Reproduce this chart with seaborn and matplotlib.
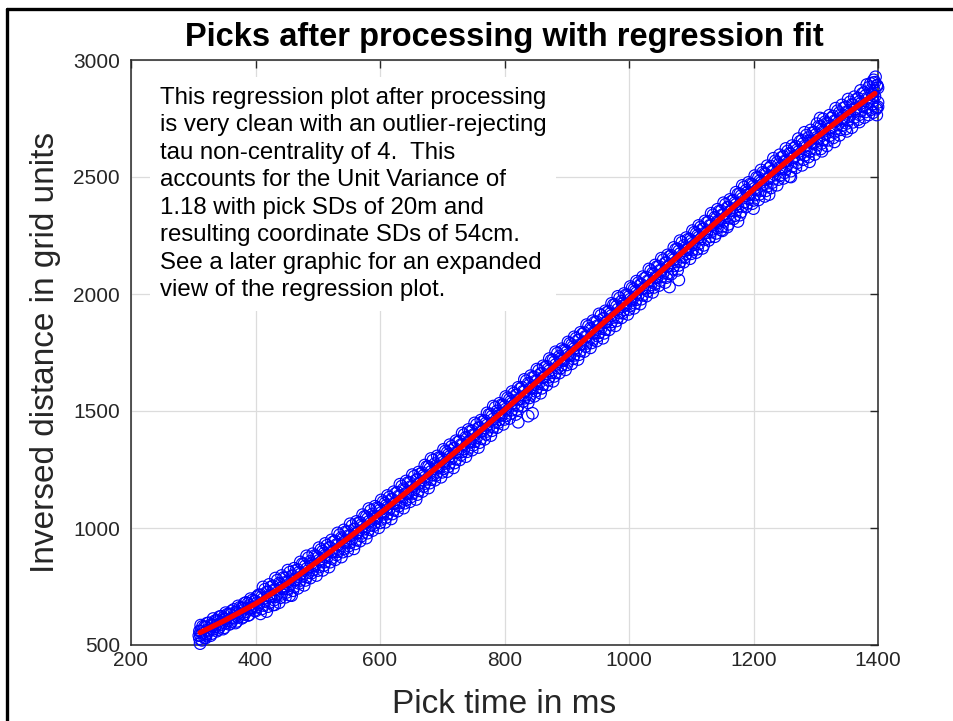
import matplotlib
matplotlib.use("Agg")
import matplotlib.pyplot as plt
from matplotlib.lines import Line2D
import pandas as pd
import seaborn as sns

# Pick times (ms) and inversed distances (grid units) after processing
pick_ms_even = [
    310, 320, 330, 340, 350, 360, 370, 380, 390, 400,
    410, 420, 430, 440, 450, 460, 470, 480, 490, 500,
    510, 520, 530, 540, 550, 560, 570, 580, 590, 600,
    610, 620, 630, 640, 650, 660, 670, 680, 690, 700,
    710, 720, 730, 740, 750, 760, 770, 780, 790, 800,
    810, 820, 830, 840, 850, 860, 870, 880, 890, 900,
    910, 920, 930, 940, 950, 960, 970, 980, 990, 1000,
    1010, 1020, 1030, 1040, 1050, 1060, 1070, 1080, 1090, 1100,
    1110, 1120, 1130, 1140, 1150, 1160, 1170, 1180, 1190, 1200,
    1210, 1220, 1230, 1240, 1250, 1260, 1270, 1280, 1290, 1300,
    1310, 1320, 1330, 1340, 1350, 1360, 1370, 1380, 1390, 1400,
]
dist_even_hi = [
    560, 575, 583, 600, 611, 629, 640, 658, 669, 688,
    706, 727, 736, 759, 770, 796, 811, 838, 848, 873,
    892, 917, 929, 954, 968, 996, 1013, 1040, 1051, 1077,
    1097, 1123, 1137, 1163, 1178, 1207, 1225, 1254, 1266, 1293,
    1314, 1341, 1356, 1383, 1399, 1429, 1448, 1478, 1491, 1519,
    1541, 1569, 1585, 1613, 1629, 1661, 1680, 1710, 1724, 1752,
    1775, 1804, 1819, 1848, 1865, 1896, 1916, 1947, 1960, 1989,
    2012, 2041, 2056, 2085, 2102, 2134, 2154, 2184, 2198, 2227,
    2250, 2279, 2294, 2323, 2339, 2371, 2390, 2420, 2434, 2462,
    2484, 2512, 2526, 2553, 2568, 2598, 2616, 2644, 2655, 2681,
    2702, 2728, 2740, 2766, 2779, 2807, 2822, 2848, 2857, 2881,
]
dist_even_lo = [
    527, 541, 549, 566, 574, 592, 601, 619, 629, 645,
    654, 664, 692, 702, 725, 732, 763, 776, 807, 818,
    840, 854, 885, 897, 923, 932, 965, 978, 1010, 1022,
    1045, 1060, 1093, 1106, 1133, 1143, 1177, 1192, 1225, 1238,
    1262, 1278, 1312, 1326, 1354, 1365, 1400, 1416, 1450, 1464,
    1489, 1506, 1541, 1556, 1584, 1597, 1632, 1648, 1683, 1697,
    1723, 1741, 1775, 1791, 1820, 1832, 1868, 1885, 1919, 1934,
    1960, 1978, 2012, 2028, 2057, 2070, 2106, 2122, 2157, 2172,
    2192, 2208, 2244, 2259, 2289, 2298, 2334, 2350, 2387, 2400,
    2426, 2441, 2476, 2489, 2518, 2525, 2560, 2574, 2608, 2619,
    2644, 2657, 2690, 2702, 2729, 2734, 2766, 2778, 2810, 2819,
]

pick_ms_odd = [
    315, 325, 335, 345, 355, 365, 375, 385, 395, 405,
    415, 425, 435, 445, 455, 465, 475, 485, 495, 505,
    515, 525, 535, 545, 555, 565, 575, 585, 595, 605,
    615, 625, 635, 645, 655, 665, 675, 685, 695, 705,
    715, 725, 735, 745, 755, 765, 775, 785, 795, 805,
    815, 825, 835, 845, 855, 865, 875, 885, 895, 905,
    915, 925, 935, 945, 955, 965, 975, 985, 995, 1005,
    1015, 1025, 1035, 1045, 1055, 1065, 1075, 1085, 1095, 1105,
    1115, 1125, 1135, 1145, 1155, 1165, 1175, 1185, 1195, 1205,
    1215, 1225, 1235, 1245, 1255, 1265, 1275, 1285, 1295, 1305,
    1315, 1325, 1335, 1345, 1355, 1365, 1375, 1385, 1395,
]
dist_odd_hi = [
    580, 595, 604, 623, 632, 652, 661, 682, 692, 714,
    738, 749, 777, 788, 811, 819, 847, 873, 882, 908,
    926, 941, 971, 984, 1010, 1021, 1049, 1075, 1086, 1112,
    1132, 1148, 1179, 1194, 1221, 1232, 1262, 1290, 1301, 1329,
    1349, 1367, 1399, 1414, 1442, 1455, 1485, 1515, 1526, 1556,
    1576, 1595, 1629, 1644, 1673, 1687, 1717, 1747, 1760, 1789,
    1811, 1829, 1863, 1880, 1909, 1922, 1954, 1983, 1996, 2026,
    2048, 2067, 2100, 2117, 2146, 2160, 2191, 2221, 2234, 2264,
    2286, 2305, 2338, 2354, 2383, 2397, 2427, 2457, 2470, 2498,
    2520, 2537, 2569, 2584, 2611, 2623, 2653, 2679, 2690, 2717,
    2736, 2752, 2783, 2796, 2821, 2831, 2857, 2883, 2905,
]
dist_odd_lo = [
    550, 560, 578, 586, 604, 614, 631, 642, 659, 671,
    686, 706, 716, 740, 754, 779, 793, 809, 837, 855,
    874, 898, 910, 936, 953, 981, 995, 1011, 1041, 1059,
    1080, 1105, 1118, 1146, 1164, 1192, 1208, 1226, 1256, 1276,
    1297, 1324, 1338, 1366, 1385, 1415, 1431, 1451, 1481, 1503,
    1524, 1552, 1568, 1596, 1616, 1647, 1663, 1683, 1715, 1736,
    1759, 1786, 1802, 1832, 1852, 1882, 1900, 1919, 1951, 1973,
    1996, 2024, 2039, 2069, 2089, 2120, 2137, 2157, 2189, 2211,
    2234, 2262, 2277, 2306, 2326, 2357, 2373, 2393, 2425, 2445,
    2468, 2494, 2508, 2536, 2554, 2583, 2599, 2615, 2645, 2664,
    2684, 2709, 2722, 2748, 2764, 2791, 2803, 2819, 2845,
]

pick_ms_early = [
    312, 322, 332, 342, 352, 362, 372, 382, 392, 402,
    412, 422, 432, 442, 452, 462, 472, 482, 492, 502,
    512, 522, 532, 542, 552, 562, 572, 582, 592, 602,
    612, 622, 632, 642, 652, 662, 672, 682, 692, 702,
    712, 722, 732, 742, 752, 762, 772, 782, 792, 802,
    812, 822, 832, 842, 852, 862, 872, 882, 892, 902,
    912, 922, 932, 942, 952, 962, 972, 982, 992, 1002,
    1012, 1022, 1032, 1042, 1052, 1062, 1072, 1082, 1092, 1102,
    1112, 1122, 1132, 1142, 1152, 1162, 1172, 1182, 1192, 1202,
    1212, 1222, 1232, 1242, 1252, 1262, 1272, 1282, 1292, 1302,
    1312, 1322, 1332, 1342, 1352, 1362, 1372, 1382, 1392,
]
dist_early_top = [
    585, 593, 613, 621, 638, 646, 667, 678, 698, 706,
    748, 759, 786, 797, 820, 828, 855, 881, 890, 916,
    934, 949, 979, 992, 1018, 1028, 1057, 1083, 1093, 1120,
    1139, 1155, 1187, 1201, 1228, 1239, 1269, 1297, 1308, 1336,
    1356, 1373, 1406, 1421, 1449, 1461, 1492, 1521, 1533, 1562,
    1583, 1601, 1635, 1651, 1679, 1693, 1724, 1753, 1766, 1795,
    1817, 1836, 1869, 1886, 1915, 1928, 1960, 1990, 2002, 2032,
    2055, 2074, 2107, 2124, 2153, 2167, 2199, 2228, 2241, 2271,
    2293, 2312, 2345, 2362, 2390, 2404, 2435, 2464, 2477, 2506,
    2530, 2548, 2580, 2595, 2622, 2634, 2664, 2691, 2701, 2728,
    2748, 2764, 2794, 2808, 2833, 2843, 2870, 2895, 2903,
]
dist_early_mid = [
    557, 563, 585, 591, 610, 616, 636, 653, 661, 679,
    698, 708, 734, 745, 768, 778, 803, 826, 839, 862,
    884, 898, 927, 940, 966, 978, 1005, 1028, 1042, 1066,
    1089, 1104, 1135, 1149, 1176, 1189, 1217, 1242, 1257, 1282,
    1306, 1322, 1354, 1369, 1397, 1411, 1440, 1466, 1482, 1508,
    1533, 1550, 1583, 1599, 1627, 1643, 1672, 1698, 1715, 1741,
    1767, 1785, 1817, 1834, 1863, 1878, 1908, 1935, 1951, 1978,
    2005, 2023, 2055, 2072, 2101, 2117, 2147, 2173, 2190, 2217,
    2243, 2261, 2293, 2310, 2338, 2354, 2383, 2409, 2426, 2452,
    2476, 2493, 2524, 2539, 2566, 2580, 2608, 2632, 2646, 2670,
    2694, 2709, 2738, 2752, 2777, 2789, 2814, 2836, 2848,
]
dist_early_low = [
    540, 548, 567, 576, 593, 601, 619, 631, 652, 662,
    669, 680, 706, 717, 740, 748, 776, 791, 820, 833,
    855, 870, 899, 912, 938, 948, 978, 993, 1023, 1037,
    1060, 1076, 1107, 1121, 1148, 1159, 1190, 1207, 1238, 1253,
    1277, 1294, 1326, 1341, 1369, 1381, 1413, 1431, 1463, 1479,
    1504, 1522, 1555, 1571, 1599, 1613, 1645, 1663, 1696, 1712,
    1738, 1757, 1789, 1806, 1835, 1848, 1881, 1900, 1932, 1949,
    1976, 1995, 2027, 2044, 2073, 2087, 2120, 2138, 2171, 2188,
    2214, 2233, 2265, 2282, 2310, 2324, 2356, 2374, 2407, 2423,
    2442, 2460, 2491, 2506, 2533, 2545, 2576, 2592, 2622, 2636,
    2660, 2676, 2705, 2719, 2744, 2754, 2782, 2796, 2824,
]

pick_ms_late = [
    318, 328, 338, 348, 358, 368, 378, 388, 398,
    408, 418, 428, 438, 448, 458, 468, 478, 488, 498,
    508, 518, 528, 538, 548, 558, 568, 578, 588, 598,
    608, 618, 628, 638, 648, 658, 668, 678, 688, 698,
    708, 718, 728, 738, 748, 758, 768, 778, 788, 798,
    808, 818, 828, 838, 848, 858, 868, 878, 888, 898,
    908, 918, 928, 938, 948, 958, 968, 978, 988, 998,
    1008, 1018, 1028, 1038, 1048, 1058, 1068, 1078, 1088, 1098,
    1108, 1118, 1128, 1138, 1148, 1158, 1168, 1178, 1188, 1198,
    1208, 1218, 1228, 1238, 1248, 1258, 1268, 1278, 1288, 1298,
    1308, 1318, 1328, 1338, 1348, 1358, 1368, 1378, 1388, 1398,
]
dist_late_bottom = [
    531, 540, 559, 568, 588, 594, 614, 626, 647,
    633, 643, 671, 681, 704, 711, 742, 755, 786, 797,
    819, 833, 864, 876, 902, 911, 944, 957, 989, 1001,
    1024, 1039, 1072, 1085, 1112, 1122, 1156, 1171, 1204, 1217,
    1241, 1257, 1291, 1305, 1333, 1344, 1379, 1395, 1429, 1443,
    1468, 1485, 1520, 1535, 1563, 1576, 1611, 1627, 1662, 1676,
    1702, 1720, 1754, 1770, 1799, 1811, 1847, 1864, 1898, 1913,
    1939, 1957, 1991, 2007, 2036, 2049, 2085, 2101, 2136, 2151,
    2177, 2195, 2229, 2245, 2273, 2286, 2321, 2337, 2372, 2386,
    2402, 2417, 2453, 2465, 2494, 2502, 2539, 2550, 2585, 2596,
    2620, 2633, 2667, 2678, 2705, 2711, 2745, 2754, 2787, 2796,
]
dist_late_upper = [
    578, 587, 606, 616, 633, 641, 659, 678, 687,
    715, 726, 752, 764, 786, 795, 822, 847, 857, 880,
    901, 916, 945, 959, 984, 995, 1024, 1049, 1060, 1084,
    1106, 1122, 1153, 1168, 1194, 1206, 1236, 1263, 1275, 1300,
    1323, 1340, 1372, 1388, 1415, 1428, 1459, 1487, 1500, 1526,
    1550, 1568, 1601, 1618, 1645, 1660, 1691, 1719, 1733, 1759,
    1784, 1803, 1835, 1853, 1881, 1895, 1927, 1956, 1969, 1996,
    2021, 2040, 2072, 2090, 2118, 2133, 2165, 2193, 2207, 2234,
    2259, 2278, 2310, 2328, 2355, 2370, 2401, 2429, 2443, 2469,
    2497, 2515, 2546, 2562, 2588, 2601, 2631, 2657, 2668, 2692,
    2715, 2731, 2760, 2775, 2799, 2810, 2837, 2861, 2870, 2892,
]

# Picks lying off the main band
stray_ms = [311, 314, 320, 309, 431, 455, 822, 838, 845, 1065, 1080,
            1150, 1175, 1200, 1225, 1260, 1290, 1310, 1330, 1350, 1370,
            1385, 1307, 1388, 1393, 1396, 1399, 1394, 1397, 1392, 1400, 1398]
stray_dist = [506, 520, 530, 540, 672, 712, 1452, 1478, 1490, 2030, 2060,
              2270, 2310, 2365, 2425, 2500, 2565, 2610, 2650, 2695, 2735,
              2765, 2752, 2900, 2915, 2928, 2890, 2870, 2790, 2775, 2800, 2765]

# Regression fit through the picks
fit_ms = [311, 350, 400, 450, 500, 550, 600, 650, 700, 750, 800, 850,
          900, 950, 1000, 1050, 1100, 1150, 1200, 1250, 1300, 1350, 1395]
fit_dist = [553, 604, 676, 761, 858, 959, 1062, 1169, 1278, 1390, 1504, 1620,
            1737, 1856, 1974, 2093, 2212, 2330, 2447, 2559, 2666, 2770, 2857]

x_ticks = [200, 400, 600, 800, 1000, 1200, 1400]
y_ticks = [500, 1000, 1500, 2000, 2500, 3000]

title = "Picks after processing with regression fit"
x_label = "Pick time in ms"
y_label = "Inversed distance in grid units"
note = ("This regression plot after processing\n"
        "is very clean with an outlier-rejecting\n"
        "tau non-centrality of 4.  This\n"
        "accounts for the Unit Variance of\n"
        "1.18 with pick SDs of 20m and\n"
        "resulting coordinate SDs of 54cm.\n"
        "See a later graphic for an expanded\n"
        "view of the regression plot.")

rows = [
    (pick_ms_even, dist_even_hi), (pick_ms_even, dist_even_lo),
    (pick_ms_odd, dist_odd_hi), (pick_ms_odd, dist_odd_lo),
    (pick_ms_early, dist_early_top), (pick_ms_early, dist_early_mid),
    (pick_ms_early, dist_early_low),
    (pick_ms_late, dist_late_bottom), (pick_ms_late, dist_late_upper),
    (stray_ms, stray_dist),
]
picks = pd.concat([pd.DataFrame({"pick_ms": xs, "dist": ys}) for xs, ys in rows],
                  ignore_index=True)
fit = pd.DataFrame({"pick_ms": fit_ms, "dist": fit_dist})

sns.set_theme(style="white")
plt.rcParams["font.family"] = ["Liberation Sans", "DejaVu Sans"]

W, H = 954, 721
fig = plt.figure(figsize=(W / 100, H / 100), dpi=100)
fig.patch.set_facecolor("white")
ax = fig.add_axes([131 / W, 1 - 645 / H, 747 / W, 585 / H])

sns.scatterplot(data=picks, x="pick_ms", y="dist", ax=ax, marker="o", s=70,
                facecolor="none", edgecolor="#0000ff", linewidth=0.85,
                legend=False, zorder=3, clip_on=False)
sns.lineplot(data=fit, x="pick_ms", y="dist", ax=ax, color="#ff0000",
             linewidth=3.8, estimator=None, zorder=4)

ink = "#262626"
ax.set_xlim(200, 1400)
ax.set_ylim(500, 3000)
ax.set_xticks(x_ticks)
ax.set_yticks(y_ticks)
ax.grid(True, color="#dcdcdc", linewidth=0.9)
ax.set_axisbelow(True)
for side in ax.spines.values():
    side.set_visible(True)
    side.set_color(ink)
    side.set_linewidth(1.1)
ax.tick_params(direction="in", top=True, right=True, length=6, width=1,
               color=ink, labelcolor=ink, labelsize=15)
ax.tick_params(axis="x", pad=4)
ax.tick_params(axis="y", pad=8)

ax.set_title(title, fontsize=23.5, fontweight="bold", color="black", pad=10)
ax.set_xlabel(x_label, fontsize=24, color=ink, labelpad=14)
ax.set_ylabel(y_label, fontsize=24, color=ink, labelpad=9)

fig.text(160 / W, 1 - 87 / H, note, ha="left", va="top", fontsize=17.3,
         color="black", linespacing=1.32, zorder=5,
         bbox=dict(facecolor="white", edgecolor="none", pad=7))

# Figure frame
fx, fy = 7.5 / W, 1 - 8.5 / H
fig.add_artist(Line2D([fx, fx], [0, fy], color="black", lw=2.4,
                      transform=fig.transFigure))
fig.add_artist(Line2D([fx, 1], [fy, fy], color="black", lw=2.4,
                      transform=fig.transFigure))

fig.savefig("out.png", dpi=100)
